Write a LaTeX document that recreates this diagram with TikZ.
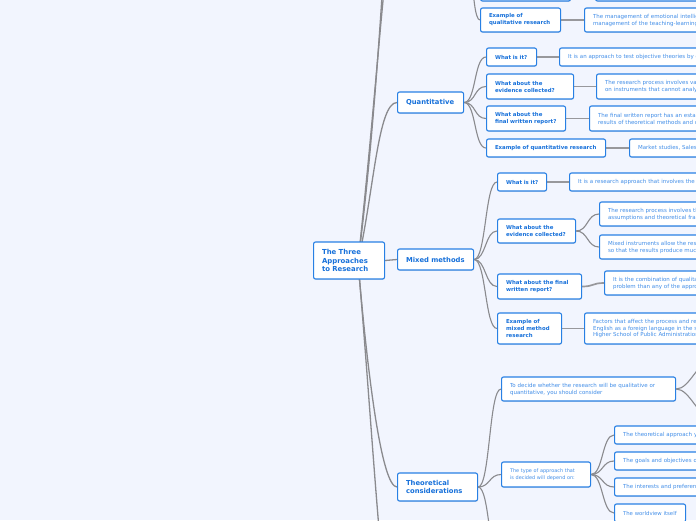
\documentclass[tikz,border=0pt]{standalone}
\usepackage{fontspec}
\setmainfont{DejaVu Sans}
\usetikzlibrary{shadows}
\definecolor{bgc}{RGB}{242,245,254}
\definecolor{bordc}{RGB}{40,128,228}
\definecolor{topc}{RGB}{22,112,218}
\definecolor{leafc}{RGB}{66,142,232}
\definecolor{edgec}{RGB}{138,138,142}
\definecolor{ledgec}{RGB}{152,152,156}
\pgfdeclarelayer{bgl}
\pgfdeclarelayer{edl}
\pgfsetlayers{bgl,edl,main}
\begin{document}
\begin{tikzpicture}[x=1pt,y=-1pt,
  box/.style={draw=bordc, line width=1.1pt, fill=white, rounded corners=2pt, anchor=west, align=left,
    inner xsep=8.5pt, inner ysep=0pt,
    execute at begin node={\hyphenpenalty=10000\exhyphenpenalty=10000\relax},
    drop shadow={shadow xshift=0.4pt, shadow yshift=-0.9pt, opacity=0.18}},
  rootbox/.style={box, text=topc, font=\fontsize{6.9}{8.4}\selectfont\bfseries},
  topic/.style={box, text=topc, font=\fontsize{6.8}{8.3}\selectfont\bfseries},
  sub/.style={box, text=topc, font=\fontsize{5.4}{7}\selectfont\bfseries},
  leaf/.style={box, text=leafc, font=\fontsize{5.5}{7}\selectfont},
  wide/.style={text width=260pt},
  edge/.style={draw=edgec, line width=1.1pt},
  redge/.style={draw=edgec, line width=1.3pt},
  ledge/.style={draw=ledgec, line width=1.7pt},
]
\begin{pgfonlayer}{bgl}
\fill[bgc] (0,0) rectangle (696,520);
\end{pgfonlayer}
\useasboundingbox (0,0) rectangle (696,520);

% root and main topics
\node[rootbox, text width=54pt, minimum height=37pt] (root) at (313,260.5) {The~Three\\Approaches\\to~Research};
\node[topic, text width=49pt, minimum height=21pt] (quant) at (397,102.5) {Quantitative};
\node[topic, text width=59pt, minimum height=21pt] (mixed) at (397,259.5) {Mixed~methods};
\node[topic, text width=63pt, minimum height=28pt] (theo) at (397,487) {Theoretical\\considerations};

% qualitative (only the lower edges of two boxes are visible)
\node[sub, text width=73pt, minimum height=25pt] (topL) at (480,-11.5) {};
\node[leaf, wide, minimum height=25pt] (topR) at (595,-11.5) {};
\node[sub, text width=63pt, minimum height=24pt] (qex) at (480,20) {Example~of\\qualitative~research};
\node[leaf, wide, minimum height=24pt] (qexL) at (584,20) {The management of emotional intelligence in the\\management of the teaching-learning process};

% quantitative
\node[sub, text width=33pt, minimum height=18pt] (q1) at (486,57) {What~is~it?};
\node[leaf, wide, minimum height=18pt] (q1L) at (559,57) {It is an approach to test objective theories by examining the relationship among variables};
\node[sub, text width=70pt, minimum height=25pt] (q2) at (486,86.5) {What~about~the\\evidence~collected?};
\node[leaf, wide, minimum height=25pt] (q2L) at (596,86.5) {The research process involves variables measured\\on instruments that cannot analyze the data};
\node[sub, text width=62pt, minimum height=25pt] (q3) at (486,118.5) {What~about~the\\final~written~report?};
\node[leaf, wide, minimum height=25pt] (q3L) at (589,118.5) {The final written report has an established structure\\results of theoretical methods and conclusions};
\node[sub, text width=102pt, minimum height=18pt] (q4) at (486,148) {Example~of~quantitative~research};
\node[leaf, wide, minimum height=18pt] (q4L) at (629,148) {Market studies, Sales reports};

% mixed methods
\node[sub, text width=32pt, minimum height=18pt] (m1) at (497,182) {What~is~it?};
\node[leaf, wide, minimum height=18pt] (m1L) at (569,182) {It is a research approach that involves the collection of both forms of data};
\node[sub, text width=61pt, minimum height=24pt] (m2) at (497,231) {What~about~the\\evidence~collected?};
\node[leaf, wide, minimum height=24pt] (m2a) at (599,214) {The research process involves the use of philosophical\\assumptions and theoretical frameworks};
\node[leaf, wide, minimum height=24pt] (m2b) at (599,247) {Mixed instruments allow the researcher to collect data\\so that the results produce much more};
\node[sub, text width=67pt, minimum height=25pt] (m3) at (497,286.5) {What~about~the~final\\written~report?};
\node[leaf, wide, minimum height=24pt] (m3L) at (604,283) {It is the combination of qualitative and quantitative\\problem than any of the approaches alone};
\node[sub, text width=47pt, minimum height=31pt] (m4) at (497,328.5) {Example~of\\mixed~method\\research};
\node[leaf, wide, minimum height=31pt, font=\fontsize{5.5}{6.6}\selectfont] (m4L) at (584,328.5) {Factors that affect the process and results of learning\\English as a foreign language in the students of the\\Higher School of Public Administration};

% theoretical considerations
\node[leaf, text width=157pt, minimum height=24pt] (dec) at (501,389) {To~decide~whether~the~research~will~be~qualitative~or\\quantitative,~you~should~consider};
\node[leaf, text width=72pt, minimum height=25pt, font=\fontsize{4.95}{6.8}\selectfont] (typ) at (501,474.5) {The~type~of~approach~that\\is~decided~will~depend~on:};
\node[leaf, wide, minimum height=18pt] (t1) at (614,435) {The theoretical approach you have};
\node[leaf, wide, minimum height=18pt] (t2) at (614,461) {The goals and objectives of the study};
\node[leaf, wide, minimum height=18pt] (t3) at (614,487) {The interests and preferences of the researcher};
\node[leaf, text width=54pt, minimum height=18pt, font=\fontsize{5.35}{7}\selectfont] (t4) at (614,513) {The~worldview~itself};

\coordinate (rootA) at (358,262);
\coordinate (qual) at (397,-80);
\coordinate (qualE) at (463,-80);
\coordinate (intro) at (397,-200);
\coordinate (below) at (397,650);
\coordinate (theoC) at (501,570);
\coordinate (decA) at (712,360);
\coordinate (decB) at (712,418);

\begin{pgfonlayer}{edl}
\draw[redge] (rootA) .. controls (380,60) and (386,-80) .. (qual);
\draw[redge] (rootA) .. controls (384,60) and (390,-200) .. (intro);
\draw[redge] (rootA) .. controls (374,190) and (378,102.5) .. (quant.west);
\draw[redge] (root.east) -- (mixed.west);
\draw[redge] (rootA) .. controls (368,380) and (382,487) .. (theo.west);
\draw[redge] (rootA) .. controls (372,420) and (384,650) .. (below);

\draw[edge] (qualE) .. controls +(10,0) and +(-10,0) .. (topL.west);
\draw[edge] (qualE) .. controls +(10,0) and +(-10,0) .. (qex.west);
\draw[ledge] (topL.east) -- (topR.west);
\draw[ledge] (qex.east) -- (qexL.west);

\foreach \n in {q1,q2,q3,q4}{
  \draw[edge] (quant.east) .. controls +(12,0) and +(-12,0) .. (\n.west);
  \draw[ledge] (\n.east) -- (\n L.west);
}
\foreach \n in {m1,m2,m3,m4}{
  \draw[edge] (mixed.east) .. controls +(12,0) and +(-12,0) .. (\n.west);
}
\draw[ledge] (m1.east) -- (m1L.west);
\draw[edge] (m2.east) .. controls +(12,0) and +(-12,0) .. (m2a.west);
\draw[edge] (m2.east) .. controls +(12,0) and +(-12,0) .. (m2b.west);
\draw[ledge] (m3.east) .. controls +(12,0) and +(-12,0) .. (m3L.west);
\draw[ledge] (m4.east) -- (m4L.west);

\draw[edge] (theo.east) .. controls +(12,0) and +(-12,0) .. (dec.west);
\draw[edge] (theo.east) .. controls +(12,0) and +(-12,0) .. (typ.west);
\draw[edge] (theo.east) .. controls +(12,0) and +(-12,0) .. (theoC);
\foreach \n in {t1,t2,t3,t4}{
  \draw[edge] (typ.east) .. controls +(12,0) and +(-12,0) .. (\n.west);
}
\draw[edge] (dec.east) .. controls +(14,0) and +(-14,0) .. (decA);
\draw[edge] (dec.east) .. controls +(14,0) and +(-14,0) .. (decB);
\end{pgfonlayer}
\end{tikzpicture}
\end{document}
